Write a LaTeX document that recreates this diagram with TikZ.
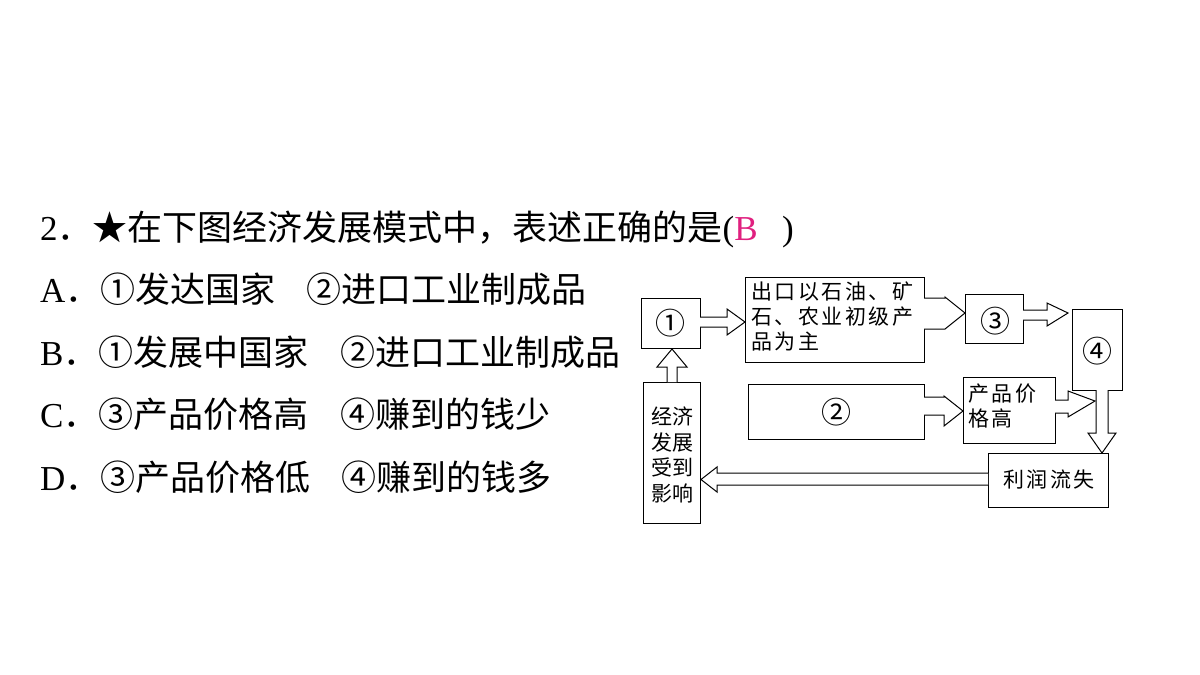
\documentclass[tikz,border=0pt]{standalone}
\usepackage{fontspec}
\setmainfont{Liberation Serif}
\newfontfamily\cjk{Noto Sans CJK SC}
\newfontfamily\cjkd[LetterSpace=12]{Noto Sans CJK SC}
\begin{document}
\begin{tikzpicture}[x=1pt,y=-1pt,
  q/.style={anchor=base west,inner sep=0,font=\fontsize{35}{35}\selectfont},
  bx/.style={draw,line width=1pt,inner sep=0},
  dt/.style={font=\fontsize{21}{25}\cjkd,inner sep=0},
  cn/.style={font=\fontsize{30}{30}\cjk,inner sep=0},
  ar/.style={draw,line width=1pt,fill=white,line join=miter}]
\useasboundingbox[fill=white] (0,0) rectangle (1200,675);
% question text
\node[q] (t0) at (40,240) {2{\cjk ．★在下图经济发展模式中，表述正确的是}({\color[HTML]{E0207F}B}\hspace{0.7em})};
\node[q] (t1) at (40,302) {A{\cjk ．①发达国家\hspace{0.9em}②进口工业制成品}};
\node[q] (t2) at (40,365) {B{\cjk ．①发展中国家\hspace{0.9em}②进口工业制成品}};
\node[q] (t3) at (40,427) {C{\cjk ．③产品价格高\hspace{0.9em}④赚到的钱少}};
\node[q] (t4) at (40,490) {D{\cjk ．③产品价格低\hspace{0.9em}④赚到的钱多}};
% boxes
\draw[line width=1pt] (641,298) rectangle (700,348);
\node[cn] (n1) at (670.5,323) {①};
\draw[line width=1pt] (745,277) rectangle (924,362);
\node[dt,anchor=north west,align=left] (ex) at (751,282) {出口以石油、矿\\石、农业初级产\\品为主};
\draw[line width=1pt] (965,294) rectangle (1023,343);
\node[cn] (n3) at (995,321) {③};
\draw[line width=1pt] (1096,390) -- (1072,390) -- (1072,309) -- (1122,309) -- (1122,390) -- (1108,390);
\node[cn] (n4) at (1097,351) {④};
\draw[line width=1pt] (748,384) rectangle (924,439);
\node[cn] (n2) at (836,412) {②};
\draw[line width=1pt] (963,377) rectangle (1055,443);
\node[dt,anchor=north west,align=left] (pr) at (968,384) {产品价\\格高};
\draw[line width=1pt] (988,453) rectangle (1108,507);
\node[dt] (pf) at (1049,479) {利润流失};
\draw[line width=1pt] (643,382) rectangle (700,523);
\node[dt,align=left,font=\fontsize{21}{25.5}\cjk] (ec) at (672,455) {经济\\发展\\受到\\影响};
% block arrows
\draw[ar] (700,317) -- (727,317) -- (727,309) -- (745,322) -- (727,335) -- (727,327) -- (700,327);
\draw[ar] (924,298) -- (945,298) -- (945,297) -- (965,313) -- (945,329) -- (924,329);
\draw[ar] (1023,310) -- (1047,310) -- (1047,303) -- (1068,313) -- (1047,326) -- (1047,320) -- (1023,320);
\draw[ar] (924,397) -- (944,397) -- (944,396) -- (963,411) -- (944,426) -- (944,415) -- (924,415);
\draw[ar] (1055,400) -- (1068,400) -- (1068,391) -- (1095,401) -- (1068,417) -- (1068,413) -- (1055,413);
\draw[ar] (1096,390) -- (1096,433) -- (1088,433) -- (1102,453) -- (1116,433) -- (1108,433) -- (1108,390);
\draw[ar] (988,473) -- (717,473) -- (717,467) -- (701,479.5) -- (717,492) -- (717,485) -- (988,485);
\draw[ar] (667,382) -- (667,367) -- (657,367) -- (672,349) -- (687,367) -- (677,367) -- (677,382);
\end{tikzpicture}
\end{document}
